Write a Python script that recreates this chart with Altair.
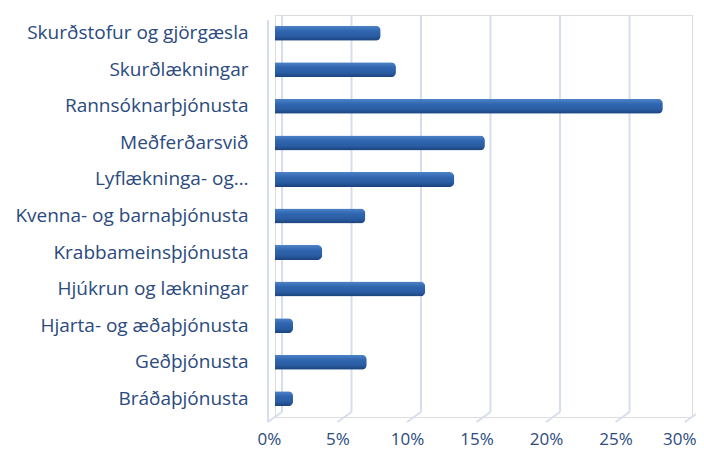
import altair as alt
import pandas as pd

categories = [
    "Skurðstofur og gjörgæsla",
    "Skurðlækningar",
    "Rannsóknarþjónusta",
    "Meðferðarsvið",
    "Lyflækninga- og…",
    "Kvenna- og barnaþjónusta",
    "Krabbameinsþjónusta",
    "Hjúkrun og lækningar",
    "Hjarta- og æðaþjónusta",
    "Geðþjónusta",
    "Bráðaþjónusta",
]
values = [0.076, 0.087, 0.279, 0.151, 0.129, 0.065, 0.034, 0.108, 0.013, 0.066, 0.013]
ticks = [0, 0.05, 0.10, 0.15, 0.20, 0.25, 0.30]

df = pd.DataFrame({"cat": categories, "val": values})
grid = pd.DataFrame({"t": ticks})

W, H = 417, 402
TEXT = "#2B4A7E"
GRID = "#D6DEEE"
FONT = "Open Sans"

xscale = alt.Scale(domain=[0, 0.30], nice=False)

bars = alt.Chart(df).mark_bar(
    size=15,
    cornerRadiusEnd=5,
    fill=alt.Gradient(
        gradient="linear",
        x1=0, x2=0, y1=0, y2=1,
        stops=[
            alt.GradientStop(color="#4F84C8", offset=0),
            alt.GradientStop(color="#3066B0", offset=0.35),
            alt.GradientStop(color="#2A5CA2", offset=0.7),
            alt.GradientStop(color="#1B427C", offset=1),
        ],
    ),
).encode(
    x=alt.X("val:Q", scale=xscale,
            axis=alt.Axis(format=".0%", values=ticks, grid=False, domain=False,
                          ticks=False, labelPadding=14, labelOffset=-7,
                          labelFlush=True, labelFlushOffset=11,
                          labelFontSize=17, labelColor=TEXT, labelFont=FONT,
                          title=None)),
    y=alt.Y("cat:N", sort=categories,
            axis=alt.Axis(domain=False, ticks=False, labelPadding=27,
                          labelFontSize=19, labelColor=TEXT, labelFont=FONT,
                          labelLimit=300, title=None)),
)

gridlines = alt.Chart(grid).mark_rule(color=GRID, strokeWidth=2, xOffset=7).encode(
    x=alt.X("t:Q", scale=xscale),
    y=alt.value(0),
    y2=alt.value(H - 5),
)

floor = alt.Chart(grid).mark_rule(color=GRID, strokeWidth=2, xOffset=7, x2Offset=-7).encode(
    x=alt.X("t:Q", scale=xscale),
    x2=alt.X2("t"),
    y=alt.value(H - 5),
    y2=alt.value(H + 5),
)

wall = alt.Chart(grid).mark_rule(color=GRID, strokeWidth=2).encode(
    x=alt.value(-7),
    y=alt.value(5),
    y2=alt.value(H + 5),
)

chart = alt.layer(wall, gridlines, floor, bars).properties(
    width=W,
    height=H,
    autosize=alt.AutoSizeParams(type="none"),
    padding={"left": 267, "top": 7, "right": 4, "bottom": 32},
).configure_view(stroke=None).configure(background="white")

chart.save("out.html", embed_options={"renderer": "svg", "actions": False})
